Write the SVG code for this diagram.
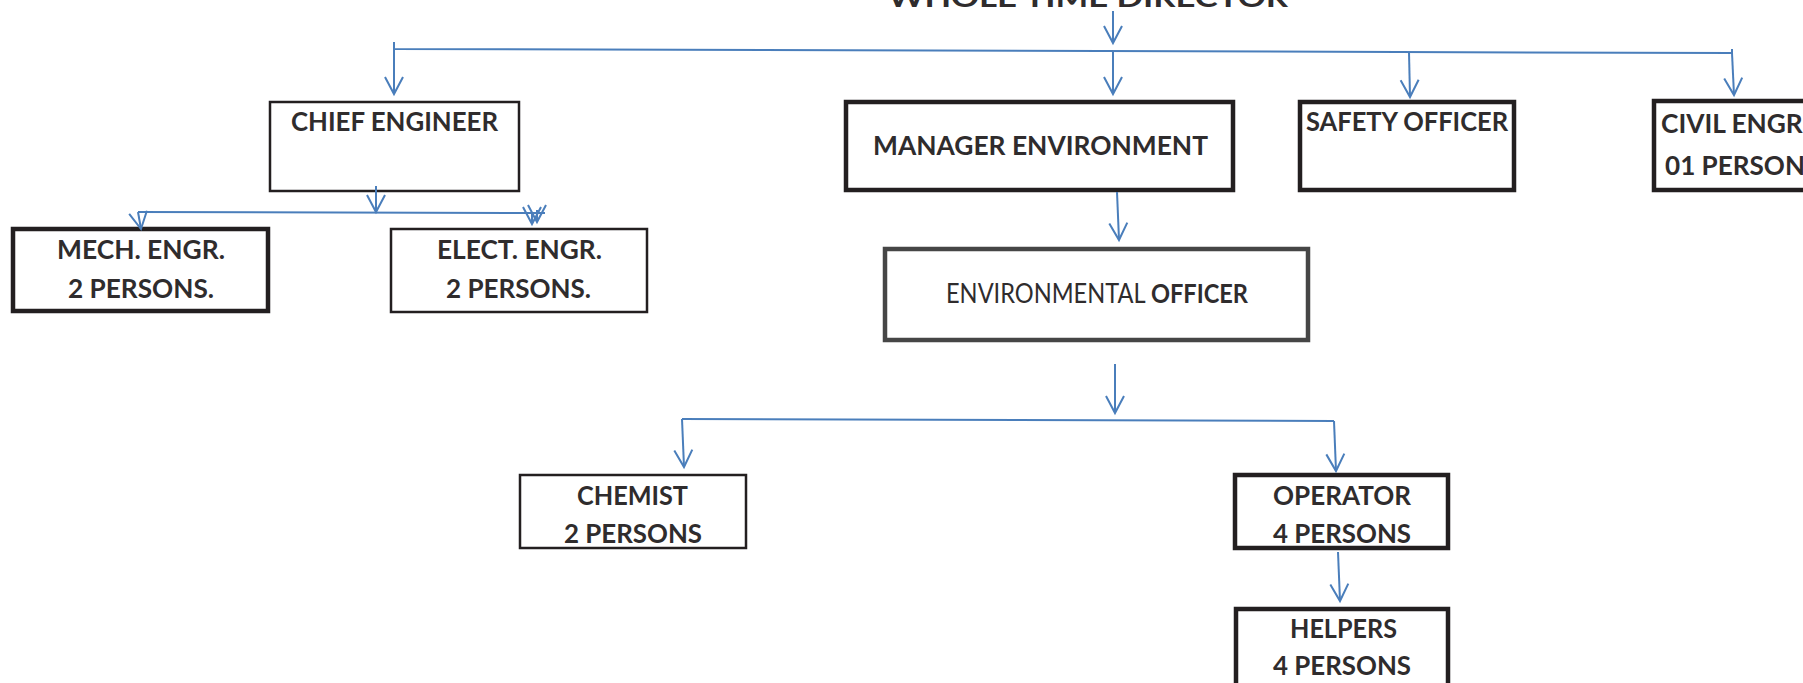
<svg xmlns="http://www.w3.org/2000/svg" width="1803" height="683" viewBox="0 0 1803 683">
<defs>
<style>
.box{fill:#fff;stroke:#231f20}
.thin{stroke-width:2.5}
.thick{stroke-width:4.5}
.t{font-family:Lato,"Open Sans","Liberation Sans",sans-serif;font-weight:700;font-size:26px;fill:#2f2c2d}
.c line,.c path{stroke:#4a7ebb;stroke-width:2;fill:none}
.a{marker-end:url(#arr)}
</style>
<marker id="arr" markerUnits="userSpaceOnUse" viewBox="-20 -11 22 22" refX="0" refY="0" markerWidth="22" markerHeight="22" orient="auto" overflow="visible">
<path d="M-17,-9 L0,0 L-17,9" fill="none" stroke="#4a7ebb" stroke-width="2"/>
</marker>
</defs>
<rect width="1803" height="683" fill="#fff"/>

<g id="director">
<text class="t" x="888" y="7" font-size="36" textLength="400" lengthAdjust="spacingAndGlyphs">WHOLE TIME DIRECTOR</text>
</g>

<g id="chief-engineer">
<rect class="box thin" x="270" y="102" width="249" height="89"/>
<text class="t" x="291" y="131" textLength="207" lengthAdjust="spacingAndGlyphs">CHIEF ENGINEER</text>
</g>

<g id="mech-engr">
<rect class="box thick" x="13" y="229" width="255" height="82"/>
<text class="t" x="57" y="259" textLength="168" lengthAdjust="spacingAndGlyphs">MECH. ENGR.</text>
<text class="t" x="68" y="298" textLength="146" lengthAdjust="spacingAndGlyphs">2 PERSONS.</text>
</g>

<g id="elect-engr">
<rect class="box thin" x="391" y="229" width="256" height="83"/>
<text class="t" x="437" y="259" textLength="165" lengthAdjust="spacingAndGlyphs">ELECT. ENGR.</text>
<text class="t" x="446" y="298" textLength="145" lengthAdjust="spacingAndGlyphs">2 PERSONS.</text>
</g>

<g id="manager-environment">
<rect class="box thick" x="846" y="102" width="387" height="88"/>
<text class="t" x="873" y="155" textLength="335" lengthAdjust="spacingAndGlyphs">MANAGER ENVIRONMENT</text>
</g>

<g id="safety-officer">
<rect class="box thick" x="1300" y="102" width="214" height="88"/>
<text class="t" x="1306" y="131" textLength="202" lengthAdjust="spacingAndGlyphs">SAFETY OFFICER</text>
</g>

<g id="civil-engr">
<rect class="box thick" x="1654" y="101" width="180" height="89"/>
<text class="t" x="1661" y="133" textLength="148" lengthAdjust="spacingAndGlyphs">CIVIL ENGR.</text>
<text class="t" x="1665" y="175" textLength="140" lengthAdjust="spacingAndGlyphs">01 PERSON</text>
</g>

<g id="environmental-officer">
<rect class="box thick" x="885" y="249" width="423" height="91" style="stroke:#464646"/>
<text class="t" x="946" y="303" style="font-weight:400" textLength="302" lengthAdjust="spacingAndGlyphs">ENVIRONMENTAL <tspan style="font-weight:700">OFFICER</tspan></text>
</g>

<g id="chemist">
<rect class="box thin" x="520" y="475" width="226" height="73"/>
<text class="t" x="577" y="505" textLength="111" lengthAdjust="spacingAndGlyphs">CHEMIST</text>
<text class="t" x="564" y="543" textLength="138" lengthAdjust="spacingAndGlyphs">2 PERSONS</text>
</g>

<g id="operator">
<rect class="box thick" x="1235" y="475" width="213" height="73"/>
<text class="t" x="1273" y="505" textLength="138" lengthAdjust="spacingAndGlyphs">OPERATOR</text>
<text class="t" x="1273" y="543" textLength="138" lengthAdjust="spacingAndGlyphs">4 PERSONS</text>
</g>

<g id="helpers">
<rect class="box thick" x="1236" y="609" width="212" height="95"/>
<text class="t" x="1290" y="638" textLength="107" lengthAdjust="spacingAndGlyphs">HELPERS</text>
<text class="t" x="1273" y="675" textLength="138" lengthAdjust="spacingAndGlyphs">4 PERSONS</text>
</g>

<g id="connectors" class="c">
<line class="a" x1="1113" y1="11" x2="1113" y2="43"/>
<path d="M394,42 L394,49 L1732,53 L1732,49"/>
<line class="a" x1="394" y1="49" x2="394" y2="94"/>
<line class="a" x1="1113" y1="51" x2="1113" y2="94"/>
<line class="a" x1="1409" y1="52" x2="1410" y2="97"/>
<line class="a" x1="1732" y1="53" x2="1734" y2="95"/>
<line class="a" x1="376" y1="186" x2="376" y2="212"/>
<line x1="138" y1="212" x2="545" y2="213"/>
<line class="a" x1="138" y1="212" x2="141" y2="229"/>
<line class="a" x1="532" y1="213" x2="532" y2="224"/>
<line class="a" x1="537" y1="210" x2="537" y2="222"/>
<line class="a" x1="1117" y1="192" x2="1119" y2="240"/>
<line class="a" x1="1115" y1="364" x2="1115" y2="413"/>
<line x1="682" y1="419" x2="1334" y2="421"/>
<line class="a" x1="682" y1="419" x2="684" y2="467"/>
<line class="a" x1="1334" y1="421" x2="1336" y2="471"/>
<line class="a" x1="1338" y1="552" x2="1340" y2="601"/>
</g>
</svg>
